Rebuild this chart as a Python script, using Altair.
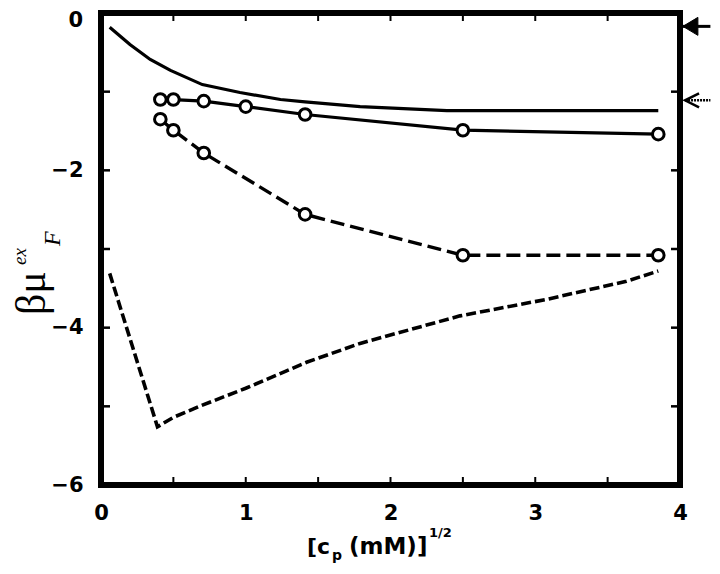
import altair as alt
import pandas as pd

# ---- data ----
# solid theory curve (no markers)
curve_a_x = [0.06, 0.20, 0.34, 0.48, 0.70, 0.96, 1.24, 1.41, 1.79, 2.39, 3.17, 3.85]
curve_a_y = [-0.18, -0.40, -0.59, -0.73, -0.91, -1.01, -1.10, -1.13, -1.19, -1.24, -1.24, -1.24]

# solid line with open circles
sim_a_x = [0.41, 0.50, 0.71, 1.00, 1.41, 2.50, 3.85]
sim_a_y = [-1.10, -1.10, -1.12, -1.19, -1.29, -1.49, -1.54]

# dashed line with open circles
sim_b_x = [0.41, 0.50, 0.71, 1.41, 2.50, 3.85]
sim_b_y = [-1.35, -1.49, -1.78, -2.56, -3.08, -3.08]

# dashed theory curve (no markers)
curve_b_x = [0.06, 0.39, 0.50, 0.68, 1.00, 1.42, 1.79, 2.48, 3.08, 3.63, 3.85]
curve_b_y = [-3.31, -5.26, -5.14, -5.00, -4.77, -4.44, -4.20, -3.85, -3.64, -3.41, -3.28]

# arrows on the right edge
arrow_y = [-0.17, -1.11]
arrow_tip_x = [4.02, 4.035]
arrow_tail_x = [4.21, 4.21]

# axis labels / ticks
x_label_vals = [0, 1, 2, 3, 4]
y_label_vals = [-2, -4, -6]
y_top_label = [0]
x_tick_vals = [0.5, 1, 1.5, 2, 2.5, 3, 3.5]
y_tick_vals = [-1, -2, -3, -4, -5]

W, H = 579, 472

X_SCALE = alt.Scale(domain=[0, 4], nice=False, zero=False)
Y_SCALE = alt.Scale(domain=[-6, 0], nice=False, zero=False)

LABEL_FONT = "DejaVu Sans"
LABEL_SIZE = 21

x_axis = alt.Axis(values=x_label_vals, ticks=False, tickSize=0, domain=False, grid=False,
                  labelFont=LABEL_FONT, labelFontWeight="bold", labelFontSize=LABEL_SIZE,
                  labelPadding=17, labelColor="black", labelFlush=False, labelOverlap=False,
                  title=None, format="d")
y_axis = alt.Axis(values=y_label_vals, ticks=False, tickSize=0, domain=False, grid=False,
                  labelFont=LABEL_FONT, labelFontWeight="bold", labelFontSize=LABEL_SIZE,
                  labelPadding=18, labelColor="black", labelFlush=False, labelOverlap=False,
                  title=None, format="d")


def X(f):
    return alt.X(f, type="quantitative", scale=X_SCALE, axis=x_axis)


def Y(f):
    return alt.Y(f, type="quantitative", scale=Y_SCALE, axis=y_axis)


def line(xs, ys, dash=None, width=3.2):
    df = pd.DataFrame({"x": xs, "y": ys})
    kw = dict(color="black", strokeWidth=width)
    if dash:
        kw["strokeDash"] = dash
    return alt.Chart(df).mark_line(**kw).encode(x=X("x"), y=Y("y"))


def circles(xs, ys):
    df = pd.DataFrame({"x": xs, "y": ys})
    return alt.Chart(df).mark_point(shape="circle", filled=True, fill="white", stroke="black",
                                    strokeWidth=3, size=135, opacity=1).encode(x=X("x"), y=Y("y"))


layers = []
layers.append(line(curve_a_x, curve_a_y, width=3.2))
layers.append(line(curve_b_x, curve_b_y, dash=[10, 4], width=3.6))
layers.append(line(sim_a_x, sim_a_y, width=3.2))
layers.append(line(sim_b_x, sim_b_y, dash=[14, 6], width=3.4))
layers.append(circles(sim_a_x, sim_a_y))
layers.append(circles(sim_b_x, sim_b_y))

# inward ticks
xt = pd.DataFrame({"v": x_tick_vals})
yt = pd.DataFrame({"v": y_tick_vals})
layers.append(alt.Chart(xt).mark_rule(color="black", strokeWidth=2).encode(
    x=X("v"), y=alt.value(H - 8), y2=alt.value(H)))
layers.append(alt.Chart(xt).mark_rule(color="black", strokeWidth=2).encode(
    x=X("v"), y=alt.value(0), y2=alt.value(8)))
layers.append(alt.Chart(yt).mark_rule(color="black", strokeWidth=2.5).encode(
    y=Y("v"), x=alt.value(0), x2=alt.value(9)))
layers.append(alt.Chart(yt).mark_rule(color="black", strokeWidth=2.5).encode(
    y=Y("v"), x=alt.value(W - 9), x2=alt.value(W)))

# the "0" label at the top of the y axis, nudged down to stay on the page
layers.append(alt.Chart(pd.DataFrame({"v": y_top_label})).mark_text(
    color="black", font=LABEL_FONT, fontWeight="bold", fontSize=LABEL_SIZE,
    align="right", baseline="middle", dy=8).encode(
    y=Y("v"), x=alt.value(-18), text=alt.Text("v:Q", format="d")))

# arrows
a1 = pd.DataFrame({"tip": [arrow_tip_x[0]], "tail": [arrow_tail_x[0]], "y": [arrow_y[0]]})
a2 = pd.DataFrame({"tip": [arrow_tip_x[1]], "tail": [arrow_tail_x[1]], "y": [arrow_y[1]]})
layers.append(alt.Chart(a1).mark_rule(color="black", strokeWidth=3).encode(
    x=X("tip"), x2="tail", y=Y("y")))
layers.append(alt.Chart(a1).mark_point(shape="M0,0L2,-1.2L2,1.2Z", filled=True, fill="black",
                                       stroke="black", strokeWidth=1, size=225, opacity=1).encode(
    x=X("tip"), y=Y("y")))
layers.append(alt.Chart(a2).mark_rule(color="black", strokeWidth=2.5, strokeDash=[2, 1]).encode(
    x=X("tip"), x2="tail", y=Y("y")))
layers.append(alt.Chart(a2).mark_point(shape="M2,-1L0,0L2,1", filled=False, stroke="black",
                                       strokeWidth=2.5, size=196, opacity=1).encode(
    x=X("tip"), y=Y("y")))


# text annotations (axis titles with sub/superscripts)
def txt(s, x, y, **kw):
    return alt.Chart(pd.DataFrame({"t": [s]})).mark_text(color="black", **kw).encode(
        x=alt.value(x), y=alt.value(y), text="t:N")


serif = "Liberation Serif"
layers.append(txt("βμ", -56, 302, font=serif, fontSize=42, angle=270, align="left",
                  baseline="alphabetic"))
layers.append(txt("ex", -75, 252, font=serif, fontSize=19, fontStyle="italic", angle=270,
                  align="left", baseline="alphabetic"))
layers.append(txt("F", -41, 233, font=serif, fontSize=24, fontStyle="italic", angle=270,
                  align="left", baseline="alphabetic"))

sans = "DejaVu Sans"
layers.append(txt("[c", 206, 541, font=sans, fontSize=22, fontWeight="bold", align="left",
                  baseline="alphabetic"))
layers.append(txt("p", 231, 547, font=sans, fontSize=14, fontWeight="bold", align="left",
                  baseline="alphabetic"))
layers.append(txt("(mM)]", 248, 541, font=sans, fontSize=23, fontWeight="bold", align="left",
                  baseline="alphabetic"))
layers.append(txt("1/2", 328, 524, font=sans, fontSize=13, fontWeight="bold", align="left",
                  baseline="alphabetic"))

chart = alt.layer(*layers).properties(
    width=W, height=H,
    padding={"left": 93, "top": 5, "right": 32, "bottom": 80},
    autosize=alt.AutoSizeParams(type="none"),
    background="white",
).configure_view(stroke="black", strokeWidth=6)

chart.save("out.html", embed_options={"renderer": "svg", "actions": False})
